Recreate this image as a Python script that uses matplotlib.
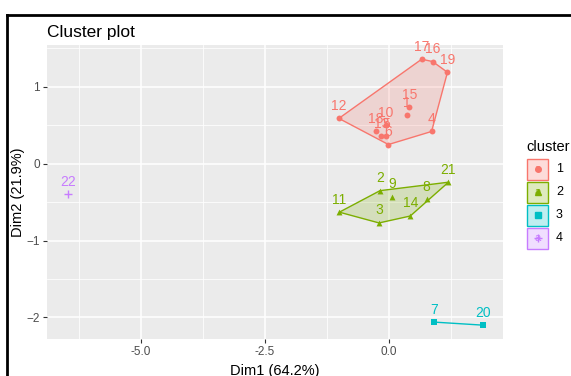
import numpy as np
import matplotlib
matplotlib.use("Agg")
import matplotlib.pyplot as plt
from matplotlib.lines import Line2D
from matplotlib.patches import Rectangle, Polygon

plt.rcParams['font.family'] = ['Liberation Sans', 'DejaVu Sans']

# cluster members: (label, dim1, dim2)
cluster1_ids = ["1", "4", "5", "6", "10", "12", "13", "15", "16", "17", "18", "19"]
cluster1_x = [0.36, 0.86, -0.05, -0.01, -0.06, -1.01, -0.15, 0.41, 0.88, 0.66, -0.26, 1.18]
cluster1_y = [0.63, 0.42, 0.36, 0.25, 0.50, 0.59, 0.36, 0.735, 1.33, 1.36, 0.42, 1.19]

cluster2_ids = ["2", "3", "8", "9", "11", "14", "21"]
cluster2_x = [-0.18, -0.20, 0.76, 0.07, -1.00, 0.43, 1.20]
cluster2_y = [-0.35, -0.77, -0.46, -0.43, -0.63, -0.68, -0.24]

cluster3_ids = ["7", "20"]
cluster3_x = [0.91, 1.90]
cluster3_y = [-2.06, -2.10]

cluster4_ids = ["22"]
cluster4_x = [-6.47]
cluster4_y = [-0.40]

cluster_names = ["1", "2", "3", "4"]
cluster_colors = ["#F8766D", "#7CAE00", "#00BFC4", "#C77CFF"]
cluster_markers = ["o", "^", "s", "+"]


def convex_hull(pts):
    """Monotone chain hull, returns points counter-clockwise."""
    pts = sorted(map(tuple, pts))
    if len(pts) < 3:
        return pts

    def cross(o, a, b):
        return (a[0] - o[0]) * (b[1] - o[1]) - (a[1] - o[1]) * (b[0] - o[0])

    lower, upper = [], []
    for p in pts:
        while len(lower) >= 2 and cross(lower[-2], lower[-1], p) <= 0:
            lower.pop()
        lower.append(p)
    for p in reversed(pts):
        while len(upper) >= 2 and cross(upper[-2], upper[-1], p) <= 0:
            upper.pop()
        upper.append(p)
    return lower[:-1] + upper[:-1]


W, H = 571, 376
fig = plt.figure(figsize=(W / 100, H / 100), dpi=100)
ax = fig.add_axes([47 / W, 1 - 339 / H, (503 - 47) / W, (339 - 45) / H])

ax.set_facecolor("#EBEBEB")
for s in ax.spines.values():
    s.set_visible(False)
ax.set_xlim(-6.895, 2.30)
ax.set_ylim(-2.28, 1.545)
ax.set_xticks([-5.0, -2.5, 0.0])
ax.set_xticklabels(["-5.0", "-2.5", "0.0"])
ax.set_yticks([-2, -1, 0, 1])
ax.set_xticks([-6.25, -3.75, -1.25, 1.25], minor=True)
ax.set_yticks([-1.5, -0.5, 0.5, 1.5], minor=True)
ax.grid(True, which="major", color="white", linewidth=1.1)
ax.grid(True, which="minor", color="white", linewidth=0.55)
ax.set_axisbelow(True)
ax.tick_params(which="major", length=3, width=0.8, color="#333333",
               labelcolor="#4D4D4D", labelsize=8.5, pad=2)
ax.tick_params(which="minor", length=0)

clusters = [
    (cluster1_ids, cluster1_x, cluster1_y),
    (cluster2_ids, cluster2_x, cluster2_y),
    (cluster3_ids, cluster3_x, cluster3_y),
    (cluster4_ids, cluster4_x, cluster4_y),
]

for (ids, xs, ys), col, mk in zip(clusters, cluster_colors, cluster_markers):
    pts = np.column_stack([xs, ys])
    hull = convex_hull(pts)
    if len(hull) >= 3:
        ax.add_patch(Polygon(hull, closed=True, facecolor=col, alpha=0.2,
                             edgecolor="none", zorder=2))
        ax.add_patch(Polygon(hull, closed=True, facecolor="none",
                             edgecolor=col, linewidth=1.0, zorder=3))
    elif len(hull) == 2:
        hx, hy = zip(*hull)
        ax.plot(hx, hy, color=col, linewidth=1.0, zorder=3)
    if mk == "+":
        ax.scatter(xs, ys, marker=mk, s=40, color=col, linewidths=1.0, zorder=4)
    else:
        ax.scatter(xs, ys, marker=mk, s=18, color=col, linewidths=0, zorder=4)
    for lab, x, y in zip(ids, xs, ys):
        ax.annotate(lab, (x, y), xytext=(0, 4), textcoords="offset points",
                    ha="center", va="bottom", color=col, fontsize=10, zorder=5)

ax.set_xlabel("Dim1 (64.2%)", fontsize=10.5, color="black", labelpad=4)
ax.set_ylabel("Dim2 (21.9%)", fontsize=10.5, color="black")
ax.yaxis.set_label_coords(-0.048, 0.5)
ax.set_title("Cluster plot", loc="left", fontsize=12.5, pad=6)

# legend drawn by hand in figure pixels
fig.text(526 / W, 1 - 147 / H, "cluster", fontsize=10.5, va="center", ha="left")
key_top = 158
for i, (name, col, mk) in enumerate(zip(cluster_names, cluster_colors, cluster_markers)):
    y0 = key_top + i * 23
    fig.add_artist(Rectangle((527 / W, 1 - (y0 + 22) / H), 21 / W, 21 / H,
                             transform=fig.transFigure, facecolor=col, alpha=0.25,
                             edgecolor="none"))
    fig.add_artist(Rectangle((527 / W, 1 - (y0 + 22) / H), 21 / W, 21 / H,
                             transform=fig.transFigure, facecolor="none",
                             edgecolor=col, linewidth=1.0))
    fig.text(537.5 / W, 1 - (y0 + 11) / H, "a", color=col, fontsize=8,
             ha="center", va="center")
    fig.add_artist(Line2D([537.5 / W], [1 - (y0 + 11) / H], marker=mk, color=col,
                          markersize=4 if mk != "+" else 6, linestyle="none",
                          transform=fig.transFigure))
    fig.text(556 / W, 1 - (y0 + 11) / H, name, fontsize=9, va="center", ha="left")

# black frame from the screenshot crop
fig.add_artist(Line2D([7 / W, 7 / W], [0, 1 - 15 / H], color="black", linewidth=2,
                      transform=fig.transFigure))
fig.add_artist(Line2D([7 / W, 1], [1 - 15 / H, 1 - 15 / H], color="black", linewidth=2,
                      transform=fig.transFigure))

fig.savefig("out.png", dpi=100)
